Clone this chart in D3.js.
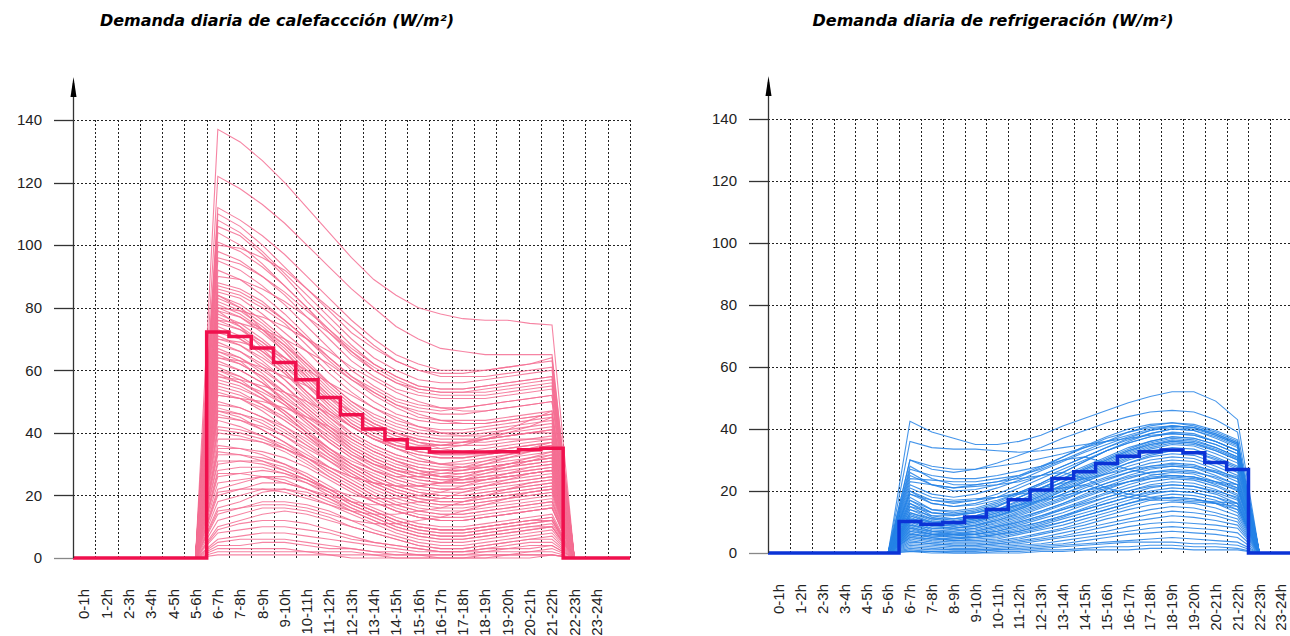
<html>
<head>
<style>
  body { margin: 0; background: #fff; }
  .title { font: italic bold 16px "DejaVu Sans", Verdana, sans-serif; fill: #000; }
  .tick { font: 15px "Liberation Sans", Arial, sans-serif; fill: #222; }
</style>
</head>
<body>
<script src="https://d3js.org/d3.v7.min.js"></script>
<svg id="chart" width="1290" height="636"></svg>
<script>
// hour labels
var hours = ["0-1h","1-2h","2-3h","3-4h","4-5h","5-6h","6-7h","7-8h","8-9h","9-10h","10-11h","11-12h",
  "12-13h","13-14h","14-15h","15-16h","16-17h","17-18h","18-19h","19-20h","20-21h","21-22h","22-23h","23-24h"];
var yTicks = [0, 20, 40, 60, 80, 100, 120, 140];
// values below are for the hours 6-7h .. 21-22h, the rest of the day is 0
var firstHour = 6;

var heatingMean = [72.2,70.8,67.1,62.5,57.0,51.3,45.8,41.2,37.8,35.1,33.9,33.9,33.9,34.0,34.6,35.1];
var coolingMean = [10.2,9.3,9.8,11.6,14.0,17.2,20.3,24.0,26.2,28.9,31.2,32.7,33.2,32.3,29.2,26.9];

var heatingDays = [
  [137,133,127,120,112,104,96,89,84,80,78,76.5,76,76,75,74.5],
  [122,118,113,107,100,93,86,80,74,70,67,66,65,65,65,65],
  [112,108,103,97,90,83,76,70,65,62,60,60,60,61,62,63],
  [110,106,100,93,86,79,72,67,63,60,59,59,60,61,62,64],
  [108,104,98,91,84,77,70,64,60,57,56,56,57,58,59,60],
  [106,103,97,90,82,75,68,62,58,55,54,54,55,56,57,58],
  [104,100,94,87,80,72,65,60,56,54,53,53,53,54,55,56],
  [101,98,93,87,80,73,66,60,56,53,52,52,52,53,54,55],
  [98,95,90,84,77,70,63,58,54,52,51,51,51,52,53,54],
  [95,92,87,81,74,67,60,55,51,49,48,48,49,50,51,52],
  [92,89,84,78,71,64,58,53,49,47,46,46,47,48,49,50],
  [88,86,82,76,70,63,57,52,48,45,44,44,44,45,46,47],
  [86,84,80,75,68,61,55,50,46,44,43,43,43,44,45,46],
  [85,83,78,72,66,59,53,48,44,42,41,41,42,43,44,45],
  [84,81,76,70,63,56,50,45,42,40,39,39,40,41,42,43],
  [83,80,75,69,62,55,49,44,41,39,38,38,38,39,40,41],
  [82,79,74,68,61,54,48,43,40,38,37,37,38,39,40,40],
  [81,78,73,67,60,53,47,43,40,38,37,37,37,38,38,39],
  [80,77,72,66,59,52,46,42,39,37,36,36,36,37,38,38],
  [79,77,73,68,62,56,50,46,43,41,40,40,41,42,43,44],
  [78,75,70,64,57,50,44,40,37,35,34,34,35,36,37,38],
  [77,74,69,63,56,49,43,39,36,34,33,33,33,34,35,36],
  [76,73,68,62,55,48,42,38,35,33,32,32,33,34,35,35],
  [75,73,69,64,58,52,46,42,39,37,36,37,38,39,40,41],
  [74,71,66,60,53,46,40,36,33,31,30,30,31,32,33,34],
  [73,70,65,59,52,45,39,35,32,30,29,29,30,31,32,33],
  [72,70,66,61,55,49,43,39,36,34,33,33,34,35,36,37],
  [71,68,63,57,50,44,38,34,31,29,28,28,29,30,31,32],
  [70,68,64,59,53,47,42,38,35,33,32,32,33,34,35,36],
  [69,66,61,55,48,42,36,32,29,27,26,26,27,28,29,30],
  [68,66,62,57,51,45,40,36,33,31,30,31,32,33,34,35],
  [67,64,59,53,47,41,35,31,28,26,25,25,26,27,28,29],
  [66,64,60,55,49,43,38,34,31,29,28,28,29,30,31,32],
  [65,62,58,52,46,40,34,30,27,25,24,24,25,26,27,28],
  [64,62,58,53,48,42,37,33,30,28,27,27,28,29,30,31],
  [63,60,56,50,44,38,33,29,26,24,23,23,24,25,26,27],
  [62,60,56,51,46,41,36,32,29,27,26,27,28,29,30,31],
  [61,58,54,49,43,37,32,28,25,23,22,22,23,24,25,26],
  [60,58,54,50,45,40,35,31,28,26,25,25,26,27,28,29],
  [59,56,52,47,41,35,30,26,23,21,20,20,21,22,23,24],
  [58,56,53,49,44,39,34,30,27,25,24,24,25,26,27,28],
  [57,55,51,46,40,34,29,25,22,20,19,19,20,21,22,23],
  [56,54,51,47,42,37,32,28,25,23,22,22,23,24,25,26],
  [55,53,49,44,39,33,28,24,21,19,18,18,19,20,21,22],
  [54,52,49,45,40,35,30,27,24,22,21,21,22,23,24,25],
  [53,51,47,42,37,32,27,23,20,18,17,17,18,19,20,21],
  [52,51,48,44,39,34,30,26,23,21,20,20,21,22,23,24],
  [50,48,45,41,36,31,26,22,19,17,16,16,17,18,19,20],
  [49,48,45,42,38,33,29,25,22,20,19,19,20,21,22,23],
  [48,46,43,39,34,29,25,21,18,16,15,15,16,17,18,19],
  [47,46,44,40,36,32,28,24,21,19,18,18,19,20,21,22],
  [46,44,41,37,32,27,23,19,16,14,13,13,14,15,16,17],
  [45,44,42,39,35,31,27,23,20,18,17,17,18,19,20,21],
  [44,42,39,35,31,26,22,18,15,13,12,12,13,14,15,16],
  [42,41,39,36,32,28,24,20,17,15,14,14,15,16,17,18],
  [40,39,37,34,30,26,22,18,15,13,12,12,13,14,15,16],
  [38,38,37,35,32,28,24,20,17,15,14,14,15,16,17,18],
  [36,35,33,30,26,22,18,15,12,10,9,9,10,11,12,13],
  [35,35,34,32,29,25,21,18,15,13,12,12,13,14,15,16],
  [33,33,32,30,27,23,19,16,13,11,10,10,11,12,13,14],
  [31,31,30,28,25,21,17,14,11,9,8,8,9,10,11,12],
  [30,31,31,29,26,22,18,15,12,10,9,9,10,11,12,13],
  [28,29,29,27,24,20,16,13,10,8,7,7,8,9,10,11],
  [26,27,28,27,25,22,18,15,12,10,9,9,10,11,12,12],
  [24,25,26,25,22,19,15,12,9,7,6,6,7,8,9,10],
  [22,24,26,26,24,21,17,14,11,9,8,8,9,10,11,12],
  [20,22,24,24,22,19,16,13,10,8,7,7,8,9,10,10],
  [18,20,22,22,20,17,14,11,8,6,5,5,6,7,8,9],
  [16,18,21,22,21,18,15,12,9,7,6,6,7,8,9,10],
  [14,16,18,18,17,15,12,9,7,5,4,4,5,6,7,8],
  [12,14,16,16,15,13,10,8,6,4,3,3,4,5,6,7],
  [10,12,14,15,14,12,10,8,6,4,3,3,4,5,6,6],
  [9,11,12,12,11,9,7,5,4,3,2,2,3,4,5,5],
  [8,9,10,10,9,8,6,5,4,3,2,2,3,3,4,4],
  [6,7,8,8,7,6,5,4,3,2,2,2,2,3,3,4],
  [5,6,6,6,5,4,3,2,2,1,1,1,2,2,2,3],
  [4,4,5,5,4,3,3,2,1,1,1,1,1,1,2,2],
  [3,3,3,3,2,2,2,1,1,1,0,0,1,1,1,1],
  [2,2,2,2,2,1,1,1,0,0,0,0,0,1,1,1],
  [1,1,1,1,1,1,0,0,0,0,0,0,0,0,0,1],
  [100,99,96,92,86,80,74,68,63,60,58,58,58,59,60,61],
  [96,94,90,85,79,73,67,62,58,55,54,54,55,56,57,58],
  [90,89,86,82,77,72,66,61,57,54,53,53,54,55,56,57],
  [87,85,81,76,70,64,58,54,50,48,47,48,49,50,51,52],
  [80,79,77,74,70,66,61,57,53,50,48,47,47,48,49,50],
  [76,75,73,70,66,62,57,53,49,46,44,43,43,44,45,46],
  [70,69,67,64,60,56,52,48,45,42,40,39,39,40,41,42],
  [64,63,61,58,55,51,47,43,40,37,35,34,34,35,36,37],
  [58,57,55,53,50,46,42,38,35,32,30,29,29,30,31,32],
  [52,51,50,48,45,42,38,34,31,28,26,25,25,26,27,28],
  [84,80,73,66,58,51,45,41,38,36,36,37,39,41,44,47],
  [79,74,67,60,53,47,42,38,36,35,35,36,38,40,42,45],
  [66,63,57,50,44,38,33,30,28,27,28,29,31,33,35,37],
  [60,57,52,46,40,35,31,28,26,26,27,28,30,32,34,36],
  [47,45,41,37,33,29,26,24,23,23,24,26,28,30,32,34],
  [41,40,38,35,32,29,26,24,23,23,24,25,27,29,31,33],
  [34,33,31,28,25,22,20,19,19,20,21,23,25,27,29,30],
  [27,27,26,24,22,20,18,17,17,18,19,21,23,25,27,28],
  [21,22,22,21,19,17,15,14,14,15,16,18,20,22,24,25],
  [15,16,17,17,16,14,12,11,11,12,13,15,17,19,21,22]
];

var coolingDays = [
  [42.5,39,37,35,35,36,38,41,43.5,46,48.5,50.5,52,52,49,43],
  [36,34,33.5,33.5,33,32.5,33,34,35,36,37,38,38.5,38,36,33],
  [30,28,27,27,28,29,30.5,32,34,36,38,40,41,40.5,38,35],
  [24,23.5,23,23,24,25,27,30,33,36,39,41,42,41,39,36],
  [23,22,21,21.5,22,23,25,28,31,34,37,39.5,41,40.5,38.5,35.5],
  [21,18,17,17.5,18,19,20,21,22,20,18,17,17,16.5,16,15],
  [18,14,13,14,16,19,22,25,28,31,34,36,37.5,37,35,32],
  [17,13,12,13,15,18,21,24,27,30,33,35.5,37,36.5,34,31],
  [16,12,11,12,14,17,20,23,26,29,32,34.5,36,35.5,33,30],
  [15,11.5,10.5,11.5,13.5,16,19,22,25,28,31,33.5,35,34.5,32,29],
  [14,11,10,11,13,15.5,18.5,21.5,24.5,27.5,30.5,33,34,33.5,31,28],
  [13,10.5,9.5,10.5,12.5,15,18,21,24,27,30,32,33,32.5,30,27],
  [12.5,10,9,10,12,14.5,17.5,20.5,23.5,26.5,29,31,32,31.5,29,26],
  [12,9.5,8.5,9.5,11.5,14,17,20,23,25.5,28,30,31,30.5,28,25],
  [11.5,9,8,9,11,13.5,16,19,22,24.5,27,29,30,29.5,27,24],
  [11,8.5,8,8.5,10.5,13,15.5,18,21,23.5,26,28,29,28.5,26,23],
  [10.5,8,7.5,8,10,12,14.5,17,20,22.5,25,27,28,27.5,25,22],
  [10,7.5,7,7.5,9,11,13.5,16,19,21.5,24,26,27,26.5,24,21],
  [9.5,7,6.5,7,8.5,10.5,13,15.5,18,20.5,23,25,26,25.5,23,20],
  [9,7,6,6.5,8,10,12,14.5,17,19.5,22,24,25,24.5,22,19],
  [8.5,6.5,6,6,7.5,9.5,11.5,14,16.5,19,21,23,24,23.5,21.5,18.5],
  [8,6,5.5,6,7,9,11,13,15.5,18,20,22,23,22.5,20.5,17.5],
  [7.5,6,5,5.5,6.5,8,10,12,14.5,17,19,21,22,21.5,19.5,17],
  [7,5.5,5,5,6,7.5,9.5,11.5,14,16,18,20,21,20.5,19,16],
  [6.5,5,4.5,5,5.5,7,9,11,13,15,17,19,20,19.5,18,15],
  [6,5,4,4.5,5,6.5,8,10,12,14,16,18,19,18.5,17,14],
  [5.5,4.5,4,4,4.5,6,7.5,9,11,13,15,17,18,17.5,16,13],
  [5,4,3.5,3.5,4,5,6.5,8,10,12,14,15.5,16.5,16,14.5,12],
  [4.5,3.5,3,3,3.5,4.5,6,7.5,9,11,12.5,14,15,14.5,13,11],
  [4,3,2.5,2.5,3,4,5,6.5,8,9.5,11,12.5,13.5,13,12,10],
  [3.5,3,2.5,2.5,3,3.5,4.5,5.5,7,8.5,10,11,12,11.5,10.5,9],
  [3,2.5,2,2,2.5,3,4,5,6,7,8.5,9.5,10,9.5,9,8],
  [2.5,2,1.5,1.5,2,2.5,3,4,5,6,7,8,8.5,8,7.5,6.5],
  [2,1.5,1,1,1.5,2,2.5,3,4,5,6,6.5,7,6.5,6,5],
  [1.5,1,1,1,1,1.5,2,2.5,3,3.5,4,4.5,5,4.5,4,3.5],
  [1,0.5,0.5,0.5,1,1,1.5,2,2.5,3,3.5,3.5,3.5,3,3,2.5],
  [0.5,0.5,0,0,0.5,0.5,1,1,1.5,2,2,2.5,2.5,2,2,1.5],
  [0.5,0,0,0,0,0,0.5,0.5,1,1,1,1.5,1.5,1,1,1],
  [20,17,16,17,19,22,25,28,31,34,36.5,38.5,40,39.5,37,34],
  [19,16,15,16,18,21,24,27,30,33,35.5,37.5,39,38.5,36,33],
  [22,19,18,19,21,23.5,26.5,29.5,32.5,35,37.5,39.5,40.5,40,38,35],
  [14,12,12,13,15,18,21,24,27.5,30.5,33.5,36,37.5,37,35,32],
  [13,11,11,12,14,16.5,19.5,23,26.5,29.5,32.5,35,36.5,36,34,31],
  [16,13,12.5,13.5,15.5,18,21,24,27,30,33,35,36,35.5,33.5,30.5],
  [11,10,10,11,13,15.5,18.5,22,25.5,28.5,31.5,34,35.5,35,33,30],
  [10,9,9,10,12,14.5,17,20,23,26,29,31.5,33,32.5,30.5,27.5],
  [12,10,9.5,10.5,12,14,16.5,19,21.5,24,26,27.5,28,27.5,26,24],
  [9,8,8,9,10.5,12.5,15,17.5,20,22.5,24.5,26,26.5,26,24.5,22],
  [8,7,7,8,9.5,11.5,13.5,16,18.5,21,23,24.5,25,24.5,23,21],
  [7,6,6,7,8.5,10,12,14,16,18,20,21.5,22,21.5,20,18],
  [6,5.5,5.5,6,7,8.5,10,12,14,16,18,19.5,20,19.5,18,16],
  [5,4.5,4.5,5,6,7,8.5,10,12,14,16,17.5,18,17.5,16,14],
  [25,22,21,22,23,24,25,26,24,21,19,18,17.5,17,16.5,16],
  [27,25,24,24,25,26.5,28,30,31,29,27,25.5,25,24.5,23,22],
  [28,24,22,22,23,25,28,31,34,37,39,40.5,41,40.5,38.5,35.5],
  [26,22,20,20.5,22,24.5,27.5,31,34.5,37.5,40,41.5,42,41.5,39.5,36.5],
  [20,16,15,15.5,17,19.5,22.5,26,29.5,33,36,38.5,40,39.5,37.5,34.5],
  [17,14,13.5,14.5,16.5,19.5,22.5,26,29.5,33,35.5,37.5,38.5,38,36,33],
  [19,17,16.5,17,18,19.5,21,22.5,24,25.5,27,28,28.5,28,26.5,24.5],
  [15,13,12.5,13,14,15.5,17,18.5,20,21.5,23,24,24.5,24,22.5,20.5],
  [30,27,26,27,29,31.5,34,37,39.5,42,44,45.5,46,45.5,43,39]
];

var panels = [
  {title: "Demanda diaria de calefaccción (W/m²)", titleX: 277, left: 73, right: 630, y0: 558, yTop: 120,
   days: heatingDays, mean: heatingMean, thin: "#f56e93", thick: "#f0104d"},
  {title: "Demanda diaria de refrigeración (W/m²)", titleX: 993, left: 768, right: 1314, y0: 553, yTop: 119,
   days: coolingDays, mean: coolingMean, thin: "#2483e6", thick: "#0b33d6"}
];

var svg = d3.select("#chart");

// 24 values for the whole day
function fullDay(vals) {
  return hours.map(function(h, i) {
    var j = i - firstHour;
    return (j >= 0 && j < vals.length) ? vals[j] : 0;
  });
}

panels.forEach(function(p) {
  var x = d3.scaleLinear().domain([0, 25]).range([p.left, p.right]);
  var y = d3.scaleLinear().domain([0, 140]).range([p.y0, p.yTop]);
  var g = svg.append("g");

  g.append("text")
    .attr("class", "title")
    .attr("x", p.titleX)
    .attr("y", 26)
    .attr("text-anchor", "middle")
    .text(p.title);

  // grid
  g.append("g").selectAll("line")
    .data(d3.range(1, 26))
    .enter().append("line")
    .attr("x1", function(d) { return Math.round(x(d)) + 0.5; })
    .attr("x2", function(d) { return Math.round(x(d)) + 0.5; })
    .attr("y1", y(0))
    .attr("y2", y(140))
    .style("stroke", "#222")
    .style("stroke-dasharray", "2,2")
    .style("shape-rendering", "crispEdges");

  g.append("g").selectAll("line")
    .data(yTicks.slice(1))
    .enter().append("line")
    .attr("x1", p.left)
    .attr("x2", p.right)
    .attr("y1", function(d) { return Math.round(y(d)) + 0.5; })
    .attr("y2", function(d) { return Math.round(y(d)) + 0.5; })
    .style("stroke", "#222")
    .style("stroke-dasharray", "2,2")
    .style("shape-rendering", "crispEdges");

  // y ticks
  g.append("g").selectAll("line")
    .data(yTicks)
    .enter().append("line")
    .attr("x1", p.left - 19)
    .attr("x2", p.left)
    .attr("y1", function(d) { return Math.round(y(d)) + 0.5; })
    .attr("y2", function(d) { return Math.round(y(d)) + 0.5; })
    .style("stroke", function(d) { return d == 0 ? "#888" : "#333"; })
    .style("stroke-width", 1.3);

  g.append("g").selectAll("text")
    .data(yTicks)
    .enter().append("text")
    .attr("class", "tick")
    .attr("x", p.left - 31)
    .attr("y", function(d) { return y(d); })
    .attr("dy", "0.35em")
    .attr("text-anchor", "end")
    .text(function(d) { return d; });

  // x labels
  g.append("g").selectAll("text")
    .data(hours)
    .enter().append("text")
    .attr("class", "tick")
    .attr("transform", function(d, i) { return "translate(" + x(i + 0.5) + "," + (p.y0 + 31) + ") rotate(-90)"; })
    .attr("dy", "0.35em")
    .attr("text-anchor", "end")
    .text(function(d) { return d; });

  // daily curves
  var line = d3.line()
    .x(function(d, i) { return x(i + 0.5); })
    .y(function(d) { return y(d); });

  g.append("g").selectAll("path")
    .data(p.days.map(fullDay))
    .enter().append("path")
    .attr("d", line)
    .style("fill", "none")
    .style("stroke", p.thin)
    .style("stroke-opacity", 0.85)
    .style("stroke-width", 1.1);

  // mean as steps
  var m = fullDay(p.mean).concat([0, 0]);
  var step = d3.line()
    .x(function(d, i) { return x(i); })
    .y(function(d) { return y(d); })
    .curve(d3.curveStepAfter);

  g.append("path")
    .attr("d", step(m))
    .style("fill", "none")
    .style("stroke", p.thick)
    .style("stroke-width", 3.5);

  // y axis with arrow
  var tip = p.yTop - 43;
  g.append("line")
    .attr("x1", p.left + 0.5).attr("x2", p.left + 0.5)
    .attr("y1", y(0)).attr("y2", tip + 6)
    .style("stroke", "#333")
    .style("stroke-width", 1.3);

  g.append("path")
    .attr("d", "M" + (p.left + 0.5) + "," + tip + "L" + (p.left + 3.5) + "," + (tip + 20) + "L" + (p.left - 2.5) + "," + (tip + 20) + "Z")
    .style("fill", "#000");
});
</script>
</body>
</html>
